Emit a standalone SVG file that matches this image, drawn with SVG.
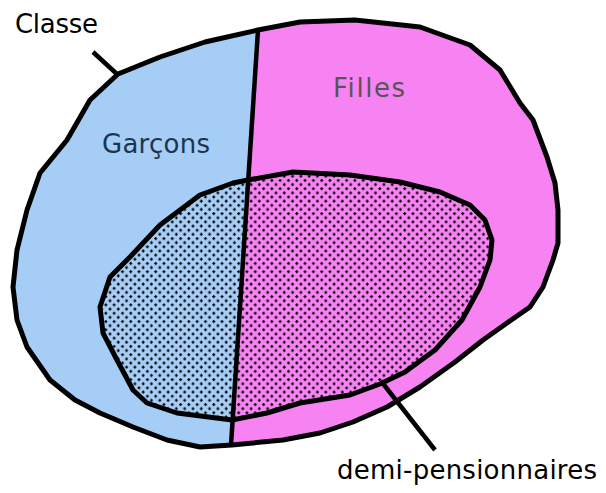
<svg xmlns="http://www.w3.org/2000/svg" width="606" height="493" viewBox="0 0 606 493">
<style>
.ol{fill:none;stroke:#000;stroke-width:5;stroke-linejoin:round;stroke-linecap:round}
.ln{fill:none;stroke:#000;stroke-width:4.5;stroke-linecap:butt}
.lbl{font-family:"DejaVu Sans","Liberation Sans",sans-serif;font-size:26px}
</style>
<defs>
<path id="outer" d="M118,74 L160,57 L205,42 L258,30 L300,22 L355,20 L420,27 L470,45 L500,70 L520,103 L533,120 L547,157 L555,183 L558,210 L558,243 L553,260 L543,287 L530,307 L507,323 L483,340 L455,362 L420,387 L387,407 L353,422 L320,433 L283,440 L232,445 L200,447 L167,440 L133,427 L100,413 L75,400 L50,380 L27,347 L17,320 L13,287 L17,250 L27,210 L40,173 L67,140 L90,100 Z"/>
<path id="inner" d="M248,180 L293,172 L350,175 L400,182 L440,192 L470,205 L485,220 L492,240 L490,260 L480,287 L462,320 L435,350 L405,372 L380,384 L350,395 L300,403 L267,413 L232,420 L177,413 L147,403 L133,390 L117,360 L103,333 L100,307 L110,277 L130,257 L160,225 L200,195 L233,183 Z"/>
<clipPath id="leftHalf"><polygon points="0,0 260,0 258,30 231,445 230,493 0,493"/></clipPath>
<clipPath id="rightHalf"><polygon points="260,0 606,0 606,493 230,493 231,445 258,30"/></clipPath>
<pattern id="plus" width="8.3" height="8.3" patternUnits="userSpaceOnUse">
<path d="M0.6,2h3M2.1,0.5v3M4.75,6.15h3M6.25,4.65v3" stroke="#000" stroke-width="1.3" fill="none"/>
</pattern>
</defs>
<g id="garcons">
<use href="#outer" fill="#a6cdf5" clip-path="url(#leftHalf)"/>
<text class="lbl" x="102" y="153" fill="#1b3550" textLength="108">Garçons</text>
</g>
<g id="filles">
<use href="#outer" fill="#f783f3" clip-path="url(#rightHalf)"/>
<text class="lbl" x="333" y="97" fill="#555555" textLength="72">Filles</text>
</g>
<g id="demi-pensionnaires">
<use href="#inner" fill="url(#plus)"/>
<use href="#inner" class="ol"/>
<text class="lbl" x="337" y="479" fill="#000" textLength="260">demi-pensionnaires</text>
</g>
<g id="classe">
<use href="#outer" class="ol"/>
<line class="ln" x1="258" y1="30" x2="231" y2="445"/>
<text class="lbl" x="15" y="33" fill="#000" textLength="83">Classe</text>
</g>
<g id="connectors">
<line class="ln" x1="93" y1="52" x2="118" y2="75"/>
<line class="ln" x1="381" y1="381" x2="435" y2="450"/>
</g>
</svg>
